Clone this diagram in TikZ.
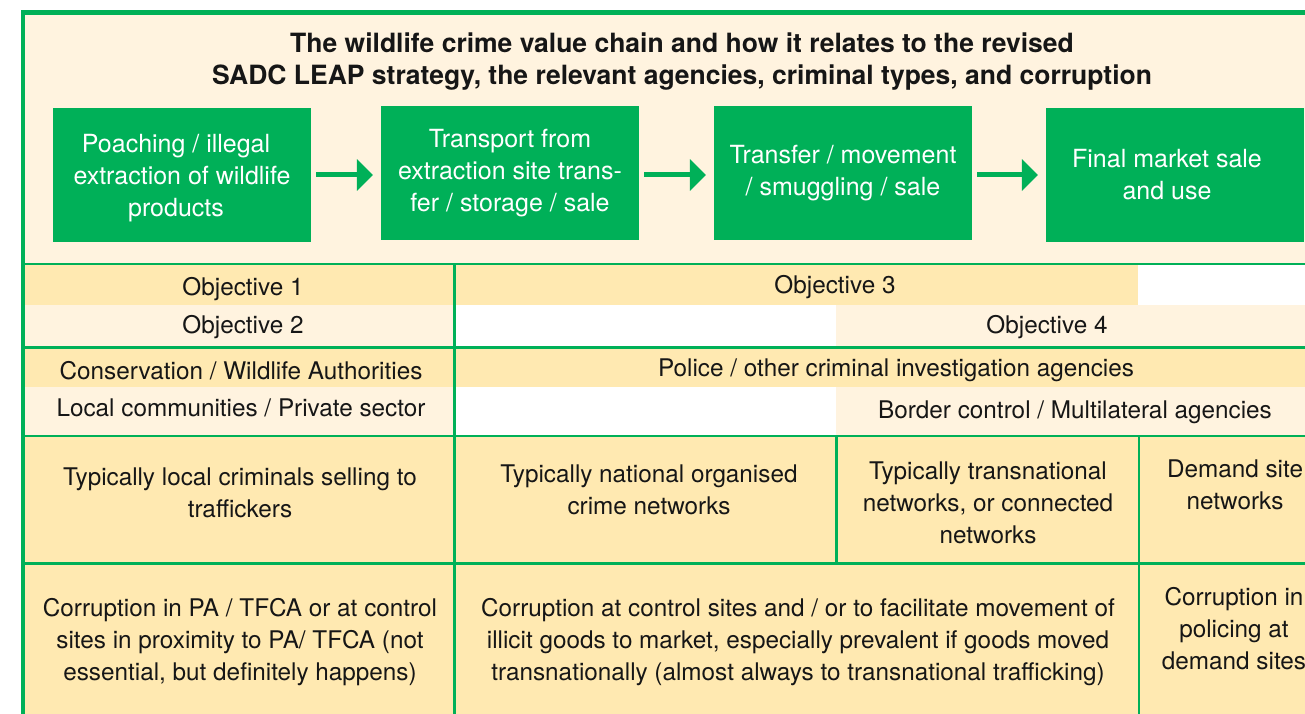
\documentclass[tikz,border=0pt]{standalone}
\usepackage{fontspec}
\setmainfont{TeX Gyre Heros}
\usepackage{xcolor}
\usetikzlibrary{arrows.meta}
\definecolor{leapgreen}{RGB}{0,176,88}
\definecolor{cream}{RGB}{255,243,223}
\definecolor{straw}{RGB}{255,233,177}
\definecolor{ink}{RGB}{22,22,22}

\begin{document}
\begin{tikzpicture}[x=1pt,y=-1pt,
  stage/.style={fill=leapgreen,text=white,minimum width=258pt,minimum height=134pt,inner sep=0pt,align=center,font=\fontsize{25}{32}\selectfont},
  flow/.style={leapgreen,line width=5pt,-{Triangle[length=16pt,width=31pt]},shorten <=5pt,shorten >=8pt},
  cell/.style={text=ink,align=center,inner sep=0pt,font=\fontsize{24.3}{32}\selectfont},
  rule/.style={leapgreen,line width=2.8pt},
]
\useasboundingbox (0,0) rectangle (1305,714);
\clip (0,0) rectangle (1305,714);
\fill[white] (0,0) rectangle (1305,714);
\fill[cream] (23,12) rectangle (1305,264);
\fill[straw] (23,264) rectangle (454.5,305);
\fill[cream] (23,305) rectangle (454.5,347);
\fill[straw] (23,347) rectangle (454.5,387);
\fill[cream] (23,387) rectangle (454.5,436);
\fill[straw] (454.5,264) rectangle (1138,305);
\fill[cream] (836,305) rectangle (1305,347);
\fill[straw] (454.5,347) rectangle (1305,387);
\fill[cream] (836,387) rectangle (1305,436);
\fill[straw] (23,436) rectangle (1305,714);

\draw[rule] (23,264) -- (1305,264);
\draw[rule] (23,347.3) -- (1305,347.3);
\draw[rule] (23,436) -- (1305,436);
\draw[rule] (23,563.7) -- (1305,563.7);
\draw[rule] (454.5,264) -- (454.5,714);
\draw[rule] (836.5,436) -- (836.5,563.7);
\draw[rule] (1139,436) -- (1139,714);
\draw[leapgreen,line width=4.5pt] (1310,12.5) -- (23,12.5) -- (23,720);

\node[cell,font=\bfseries\fontsize{26.5}{32}\selectfont] (title) at (682,61.5)
  {The wildlife crime value chain and how it relates to the revised\\
   SADC LEAP strategy, the relevant agencies, criminal types, and corruption};

\node[stage] (poach) at (182,175) {\rule{0pt}{24pt}Poaching / illegal\hspace*{12pt}\\extraction of wildlife\hspace*{12pt}\\products\hspace*{12pt}};
\node[stage] (transport) at (510,173) {Transport from\\extraction site trans-\\fer / storage / sale};
\node[stage] (transfer) at (843,173) {Transfer / movement\\/ smuggling / sale};
\node[stage] (market) at (1175,175) {Final market sale\hspace*{16pt}\\and use\hspace*{16pt}};
\draw[flow] (poach.east) -- (transport.west |- poach.east);
\draw[flow] (transport.east |- poach.east) -- (transfer.west |- poach.east);
\draw[flow] (transfer.east |- poach.east) -- (market.west |- poach.east);

\node[cell] (obj1) at (243,289) {Objective 1};
\node[cell] (obj2) at (243,327) {Objective 2};
\node[cell] (obj3) at (835,287) {Objective 3};
\node[cell] (obj4) at (1047,327) {Objective 4};
\node[cell] (wildlife) at (241,371) {Conservation / Wildlife Authorities};
\node[cell] (local) at (241,408) {Local communities / Private sector};
\node[cell] (police) at (896,370) {Police / other criminal investigation agencies};
\node[cell] (border) at (1075,412) {Border control / Multilateral agencies};

\node[cell] (sellers) at (240,493) {Typically local criminals selling to\\traffickers};
\node[cell] (national) at (649,490) {Typically national organised\\crime networks};
\node[cell] (transnational) at (988,502.5) {Typically transnational\\networks, or connected\\networks};
\node[cell] (demand) at (1235,485) {Demand site\\networks};

\node[cell] (corrpa) at (240,642) {Corruption in PA / TFCA or at control\\sites in proximity to PA/ TFCA (not\\essential, but definitely happens)};
\node[cell] (corrmove) at (798,642) {Corruption at control sites and / or to facilitate movement of\\illicit goods to market, especially prevalent if goods moved\\transnationally (almost always to transnational trafficking)};
\node[cell] (corrpolice) at (1234,628.5) {Corruption in\\policing at\\demand sites};
\end{tikzpicture}
\end{document}
